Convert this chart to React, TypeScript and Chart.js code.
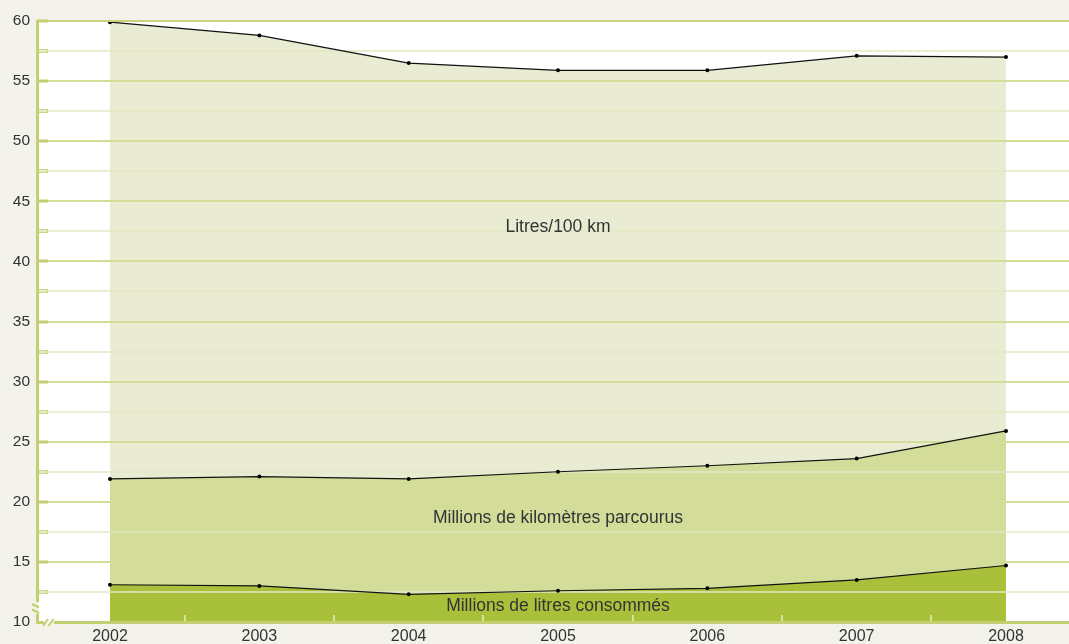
import React, { useEffect, useRef } from "react";
import { Chart, registerables } from "chart.js";

Chart.register(...registerables);

const years = [2002, 2003, 2004, 2005, 2006, 2007, 2008];
const litresPer100km = [59.9, 58.8, 56.5, 55.9, 55.9, 57.1, 57.0];
const millionsKm = [21.9, 22.1, 21.9, 22.5, 23.0, 23.6, 25.9];
const millionsLitres = [13.1, 13.0, 12.3, 12.6, 12.8, 13.5, 14.7];

const seriesNames = ["Litres/100 km", "Millions de kilomètres parcourus", "Millions de litres consommés"];
const seriesColors = ["#e9ecd2", "#d4dc9a", "#a9c13a"];
const labelX = [2005, 2005, 2005];
const labelY = [42.85, 18.65, 11.3];

const yMin = 10;
const yMax = 60;
const yStep = 5;
const xMin = 2001.5112;
const xMax = 2008.4219;

const FONT = '"Liberation Sans", Arial, Helvetica, sans-serif';
const AXIS = "#c3cf70";

const decorPlugin = {
  id: "decor",
  beforeDraw(chart: any) {
    const { ctx, chartArea: a } = chart;
    ctx.save();
    ctx.fillStyle = "#f3f3eb";
    ctx.fillRect(0, 0, chart.width, chart.height);
    ctx.fillStyle = "#ffffff";
    ctx.fillRect(a.left + 2, a.top, a.right - a.left - 2, a.bottom - a.top);
    ctx.restore();
  },
  beforeDatasetsDraw(chart: any) {
    const { ctx, chartArea: a, scales } = chart;
    const y = scales.y;
    ctx.save();
    for (let v = yMin + 2.5; v < yMax; v += 2.5) {
      const py = Math.round(y.getPixelForValue(v));
      const major = Math.abs(v % 5) < 1e-6;
      ctx.strokeStyle = major ? "#d4dc99" : "#e3e8c4";
      ctx.lineWidth = major ? 2 : 1.5;
      ctx.beginPath();
      ctx.moveTo(a.left, py);
      ctx.lineTo(a.right, py);
      ctx.stroke();
    }
    ctx.restore();
  },
  afterDatasetsDraw(chart: any) {
    const { ctx, chartArea: a, scales } = chart;
    const y = scales.y;
    const x = scales.x;
    ctx.save();
    const top = Math.round(y.getPixelForValue(yMax));
    ctx.fillStyle = "#c8d27a";
    ctx.fillRect(a.left, top - 1, a.right - a.left, 2);
    for (let v = yMin + 2.5; v <= yMax; v += 2.5) {
      const py = Math.round(y.getPixelForValue(v));
      const major = Math.abs(v % 5) < 1e-6;
      if (major) {
        ctx.fillStyle = AXIS;
        ctx.fillRect(a.left, py - 1.5, 11, 3);
      } else {
        ctx.fillStyle = "#e6ebc6";
        ctx.fillRect(a.left, py - 1.5, 11, 3);
        ctx.strokeStyle = "#cbd586";
        ctx.lineWidth = 1;
        ctx.strokeRect(a.left + 0.5, py - 1.5, 10, 3);
      }
    }
    ctx.fillStyle = "#d8e0a4";
    for (let i = 0; i < years.length - 1; i++) {
      const px = Math.round(x.getPixelForValue(years[i] + 0.5));
      ctx.fillRect(px - 1, a.bottom - 7, 2, 6);
    }
    const bottom = a.bottom;
    ctx.fillStyle = AXIS;
    ctx.fillRect(a.left - 1, top - 1, 3, bottom - 19 - top);
    ctx.fillRect(a.left - 1, bottom - 8, 3, 9);
    ctx.fillRect(a.left - 1, bottom - 1, 8, 3);
    ctx.fillRect(a.left + 17, bottom - 1, a.right - a.left - 17, 3);
    ctx.strokeStyle = AXIS;
    ctx.lineWidth = 2;
    ctx.beginPath();
    ctx.moveTo(a.left - 5, bottom - 18);
    ctx.lineTo(a.left + 2, bottom - 14.5);
    ctx.moveTo(a.left - 5, bottom - 12.5);
    ctx.lineTo(a.left + 2, bottom - 9);
    ctx.moveTo(a.left + 6, bottom + 4);
    ctx.lineTo(a.left + 11, bottom - 3);
    ctx.moveTo(a.left + 11.5, bottom + 4);
    ctx.lineTo(a.left + 16.5, bottom - 3);
    ctx.stroke();
    ctx.fillStyle = "#333333";
    ctx.font = `17.5px ${FONT}`;
    ctx.textAlign = "center";
    ctx.textBaseline = "middle";
    for (let i = 0; i < seriesNames.length; i++) {
      ctx.fillText(seriesNames[i], x.getPixelForValue(labelX[i]), y.getPixelForValue(labelY[i]));
    }
    ctx.restore();
  },
};

export default function App() {
  const ref = useRef<HTMLCanvasElement | null>(null);
  useEffect(() => {
    if (!ref.current) return;
    const mk = (vals: number[], color: string) => ({
      data: years.map((yr, i) => ({ x: yr, y: vals[i] })),
      backgroundColor: color,
      borderColor: "#111111",
      borderWidth: 1.2,
      pointRadius: 2,
      pointBackgroundColor: "#000000",
      pointBorderWidth: 0,
      fill: "start",
      tension: 0,
      clip: false,
    });
    const chart = new Chart(ref.current, {
      type: "line",
      data: {
        datasets: [
          { label: seriesNames[2], ...mk(millionsLitres, seriesColors[2]) },
          { label: seriesNames[1], ...mk(millionsKm, seriesColors[1]) },
          { label: seriesNames[0], ...mk(litresPer100km, seriesColors[0]) },
        ] as any,
      },
      options: {
        animation: false,
        responsive: false,
        devicePixelRatio: 1,
        layout: { autoPadding: false, padding: { top: 21, right: 0, left: 0, bottom: 0 } },
        plugins: {
          legend: { display: false },
          tooltip: { enabled: false },
          filler: { drawTime: "beforeDatasetsDraw" },
        } as any,
        scales: {
          x: {
            type: "linear",
            min: xMin,
            max: xMax,
            grid: { display: false, drawTicks: false },
            border: { display: false },
            afterBuildTicks: (s: any) => {
              s.ticks = years.map((v) => ({ value: v }));
            },
            afterFit: (s: any) => {
              s.height = 22;
            },
            ticks: {
              padding: 5,
              color: "#333333",
              font: { family: FONT, size: 16 },
              callback: (v: any) => String(v),
              maxRotation: 0,
              autoSkip: false,
            },
          },
          y: {
            type: "linear",
            min: yMin,
            max: yMax,
            grid: { display: false, drawTicks: false },
            border: { display: false },
            afterFit: (s: any) => {
              s.width = 37;
            },
            ticks: {
              stepSize: yStep,
              padding: 7,
              color: "#333333",
              font: { family: FONT, size: 15.5 },
            },
          },
        },
      } as any,
      plugins: [decorPlugin],
    });
    return () => chart.destroy();
  }, []);
  return (
    <div style={{ position: "absolute", left: 0, top: 0, width: 1069, height: 644 }}>
      <canvas ref={ref} width={1069} height={644} style={{ display: "block", width: 1069, height: 644 }} />
    </div>
  );
}
